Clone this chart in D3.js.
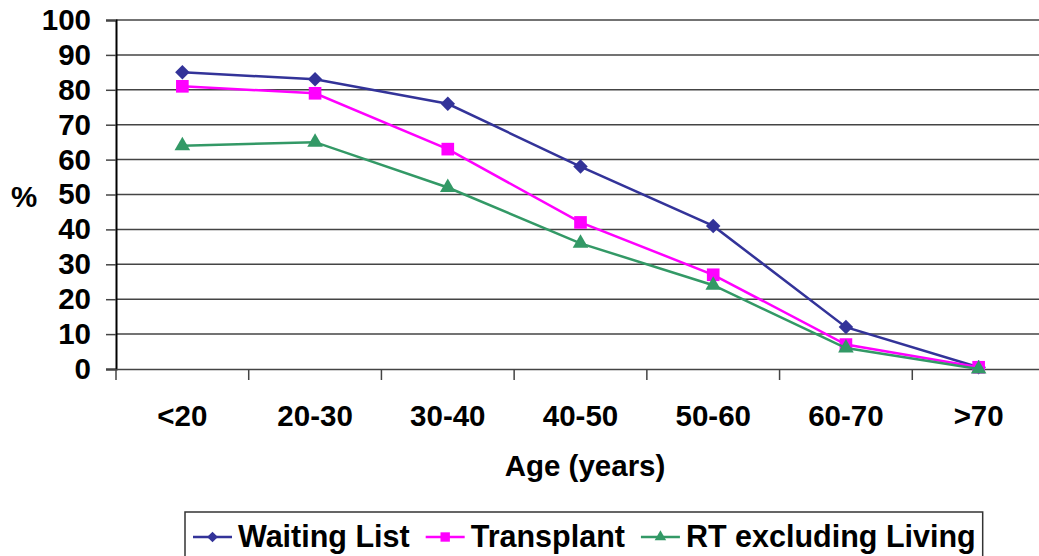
<!DOCTYPE html>
<html>
<head>
<meta charset="utf-8">
<script src="https://cdn.jsdelivr.net/npm/d3@7"></script>
<style>
  body { margin: 0; background: #fff; }
  svg { display: block; font-family: "Liberation Sans", Arial, sans-serif; font-weight: bold; }
</style>
</head>
<body>
<svg id="chart" width="1039" height="556"></svg>
<script>
let ageGroups = ["<20", "20-30", "30-40", "40-50", "50-60", "60-70", ">70"];
let waitingList = [85, 83, 76, 58, 41, 12, 0.5];
let transplant = [81, 79, 63, 42, 27, 7, 0.5];
let rtExclLiving = [64, 65, 52, 36, 24, 6, 0];
let yTicks = [0, 10, 20, 30, 40, 50, 60, 70, 80, 90, 100];

let series = [
  {name: "Waiting List", values: waitingList, color: "#333399", shape: d3.symbolSquare, size: 105, rot: 45},
  {name: "Transplant", values: transplant, color: "#ff00ff", shape: d3.symbolSquare, size: 160, rot: 0},
  {name: "RT excluding Living", values: rtExclLiving, color: "#339966", shape: d3.symbolTriangle, size: 105, rot: 0}
];

let svg = d3.select("#chart");

let x = d3.scaleBand().domain(ageGroups).range([116, 1045]);
let y = d3.scaleLinear().domain([0, 100]).range([369, 20]);

// gridlines
svg.append("g")
   .selectAll("line")
   .data(yTicks.filter(d => d > 0))
   .enter()
   .append("line")
   .attr("x1", 116)
   .attr("x2", 1045)
   .attr("y1", d => y(d))
   .attr("y2", d => y(d))
   .attr("stroke", "#444")
   .attr("stroke-width", 1.5);

// y axis
let yAxis = d3.axisLeft(y).tickValues(yTicks).tickSize(10).tickPadding(15);
let gy = svg.append("g").attr("transform", "translate(116,0)").call(yAxis);
gy.select(".domain").attr("stroke", "#000").attr("stroke-width", 2);
gy.selectAll(".tick line").attr("stroke", "#444").attr("stroke-width", 1.5);
gy.selectAll(".tick text")
  .attr("font-size", 29.5)
  .attr("font-weight", "bold")
  .attr("font-family", "Liberation Sans, Arial, sans-serif")
  .attr("fill", "#000");

// x axis
let xAxis = d3.axisBottom(x).tickSize(0).tickPadding(36);
let gx = svg.append("g").attr("transform", "translate(0,369)").call(xAxis);
gx.select(".domain").attr("stroke", "#444").attr("stroke-width", 1.5);
gx.selectAll(".tick text")
  .attr("font-size", 29.5)
  .attr("font-weight", "bold")
  .attr("font-family", "Liberation Sans, Arial, sans-serif")
  .attr("fill", "#000");

// category separator ticks
svg.append("g")
   .selectAll("line")
   .data(ageGroups)
   .enter()
   .append("line")
   .attr("x1", d => x(d))
   .attr("x2", d => x(d))
   .attr("y1", 369)
   .attr("y2", 380)
   .attr("stroke", "#444")
   .attr("stroke-width", 1.5);

// axis titles
svg.append("text")
   .attr("x", 24)
   .attr("y", 207)
   .attr("text-anchor", "middle")
   .attr("font-size", 29.5)
   .text("%");

svg.append("text")
   .attr("x", 585)
   .attr("y", 476)
   .attr("text-anchor", "middle")
   .attr("font-size", 29.5)
   .text("Age (years)");

// lines + markers
let line = d3.line()
   .x((d, i) => x(ageGroups[i]) + x.bandwidth() / 2)
   .y(d => y(d));

series.forEach(s => {
  svg.append("path")
     .datum(s.values)
     .attr("d", line)
     .attr("fill", "none")
     .attr("stroke", s.color)
     .attr("stroke-width", 2.5);

  svg.append("g")
     .selectAll("path")
     .data(s.values)
     .enter()
     .append("path")
     .attr("d", d3.symbol().type(s.shape).size(s.size))
     .attr("transform", (d, i) => "translate(" + (x(ageGroups[i]) + x.bandwidth() / 2) + "," + y(d) + ") rotate(" + s.rot + ")")
     .attr("fill", s.color);
});

// legend
let legend = svg.append("g");
let legendBox = legend.append("rect")
   .attr("x", 185)
   .attr("y", 512)
   .attr("height", 60)
   .attr("fill", "#fff")
   .attr("stroke", "#333")
   .attr("stroke-width", 1.5);

let lx = 193;
series.forEach(s => {
  legend.append("line")
        .attr("x1", lx)
        .attr("x2", lx + 39)
        .attr("y1", 537)
        .attr("y2", 537)
        .attr("stroke", s.color)
        .attr("stroke-width", 2.5);
  legend.append("path")
        .attr("d", d3.symbol().type(s.shape).size(s.size * 0.55))
        .attr("transform", "translate(" + (lx + 19.5) + ",537) rotate(" + s.rot + ")")
        .attr("fill", s.color);
  let t = legend.append("text")
        .attr("x", lx + 45)
        .attr("y", 547)
        .attr("font-size", 30.5)
        .text(s.name);
  lx += 45 + t.node().getComputedTextLength() + 16;
});
legendBox.attr("width", lx - 16 + 7 - 185);
</script>
</body>
</html>
